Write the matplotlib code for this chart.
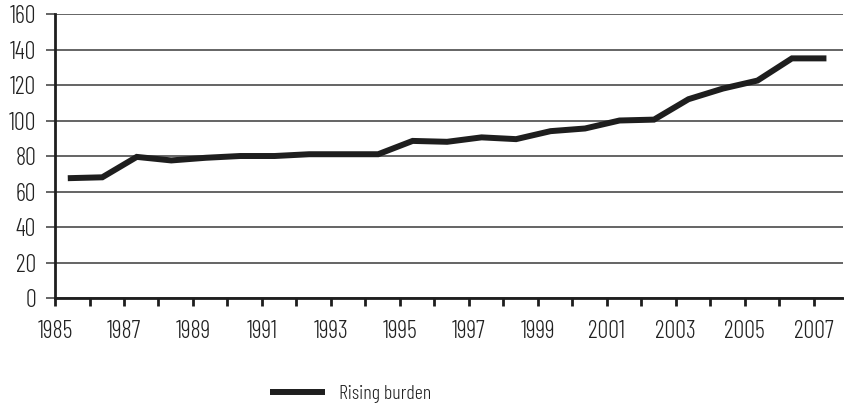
import matplotlib
matplotlib.use('Agg')
import matplotlib.pyplot as plt

years = list(range(1985, 2008))
burden = [67.5, 68, 79.5, 77.5, 79, 80, 80, 81, 81, 81, 88.5, 88, 90.5, 89.5, 94,
          95.5, 100, 100.5, 112, 118, 122.5, 135, 135]
year_labels = [str(y) if (y - 1985) % 2 == 0 else '' for y in years]

plt.rcParams['font.family'] = ['Barlow Condensed', 'DejaVu Sans']
plt.rcParams['font.weight'] = 300

fig = plt.figure(figsize=(8.44, 4.07), dpi=100)
ax = fig.add_axes([0.0652, 0.2678, 0.9336, 0.6978])

# points sit a bit right of each tick, like the original
xs = [i + 0.37 for i in range(len(years))]
ax.plot(xs, burden, color='#1e1e1e', lw=4.3, solid_capstyle='butt',
        solid_joinstyle='miter', label='Rising burden', zorder=3)

ax.set_ylim(0, 160)
ax.set_xlim(0, 22.85)
ax.set_yticks(range(0, 161, 20))
ax.yaxis.grid(True, color='#3a3a3a', lw=1.1)
ax.set_axisbelow(True)
ax.set_xticks(range(len(years)))
ax.set_xticklabels(year_labels)

for s in ['top', 'right']:
    ax.spines[s].set_visible(False)
ax.spines['left'].set_linewidth(2)
ax.spines['bottom'].set_linewidth(2)
ax.spines['left'].set_color('#1e1e1e')
ax.spines['bottom'].set_color('#1e1e1e')

ax.tick_params(axis='x', direction='out', length=6, width=2, color='#1e1e1e',
               labelsize=17.5, pad=10, labelcolor='#222222')
ax.tick_params(axis='y', direction='out', length=6.5, width=1.1, color='#3a3a3a',
               labelsize=17.5, pad=7, labelcolor='#222222')

leg = fig.legend(loc='center left', bbox_to_anchor=(0.32, 0.032), frameon=False,
                 fontsize=14.5, handlelength=2.74, handletextpad=0.7,
                 borderpad=0, borderaxespad=0)
for t in leg.get_texts():
    t.set_color('#222222')

fig.savefig('out.png', dpi=100)
